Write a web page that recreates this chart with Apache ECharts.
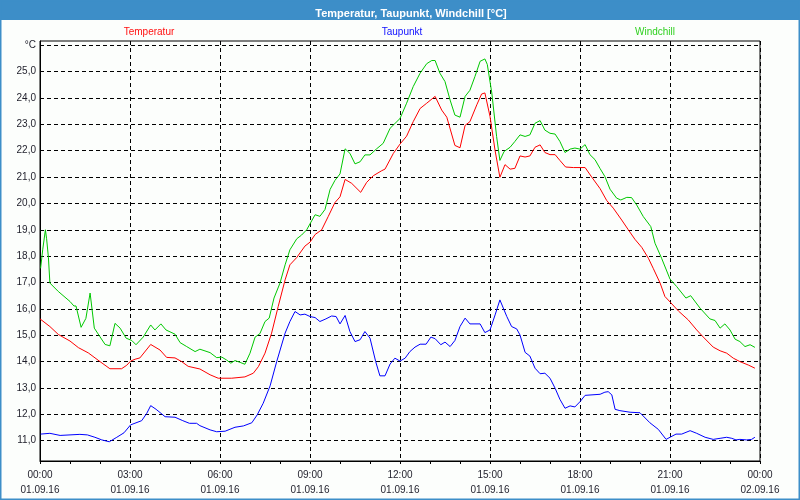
<!DOCTYPE html>
<html>
<head>
<meta charset="utf-8">
<title>Temperatur, Taupunkt, Windchill</title>
<script src="https://cdn.jsdelivr.net/npm/echarts@6/dist/echarts.min.js"></script>
<style>
  html, body { margin: 0; padding: 0; background: #fcfefc; }
  #chart { width: 800px; height: 500px; }
</style>
</head>
<body>
<div id="chart"></div>
<script>
// Stunden seit 01.09.16 00:00
const tempTimes = [0, 0.33, 0.61, 1.0, 1.28, 1.61, 2.0, 2.33, 2.72, 2.89, 3.02, 3.17, 3.33, 3.69, 4.0, 4.22, 4.5, 4.72, 4.94, 5.33,
  5.67, 5.94, 6.39, 6.83, 7.11, 7.28, 7.5, 7.72, 7.94, 8.17, 8.33, 8.56, 8.83, 9.0, 9.17, 9.39, 9.61, 9.83, 10.0, 10.17,
  10.39, 10.69, 10.89, 11.11, 11.39, 11.5, 11.78, 12.0, 12.22, 12.44, 12.67, 12.89, 13.17, 13.39, 13.56, 13.83, 14.0, 14.17, 14.33, 14.56,
  14.72, 14.83, 15.0, 15.17, 15.33, 15.5, 15.67, 15.83, 16.0, 16.17, 16.33, 16.5, 16.67, 16.83, 17.0, 17.17, 17.33, 17.52, 17.78, 18.17,
  18.39, 18.67, 18.89, 19.11, 19.39, 19.61, 19.83, 20.06, 20.28, 20.44, 20.67, 20.83, 21.02, 21.28, 21.61, 21.89, 22.11, 22.44, 22.67, 22.89,
  23.11, 23.33, 23.61, 23.83]
const tempValues = [15.62, 15.33, 15.03, 14.78, 14.53, 14.33, 14.0, 13.73, 13.73, 13.86, 14.02, 14.09, 14.14, 14.65, 14.44, 14.16, 14.14, 14.0, 13.82, 13.72,
  13.5, 13.37, 13.37, 13.42, 13.56, 13.81, 14.32, 15.08, 16.09, 17.1, 17.67, 17.95, 18.38, 18.53, 18.82, 19.0, 19.51, 20.03, 20.25, 20.91,
  20.76, 20.42, 20.8, 21.05, 21.24, 21.3, 21.9, 22.25, 22.55, 23.1, 23.6, 23.8, 24.06, 23.54, 23.27, 22.2, 22.11, 22.96, 23.1, 23.74,
  24.15, 24.19, 23.3, 22.0, 20.99, 21.47, 21.3, 21.33, 21.8, 21.76, 21.8, 22.13, 22.22, 21.93, 21.85, 21.85, 21.63, 21.38, 21.36, 21.36,
  21.0, 20.56, 20.11, 19.82, 19.37, 19.0, 18.64, 18.33, 17.92, 17.54, 16.98, 16.47, 16.24, 15.92, 15.58, 15.2, 14.93, 14.55, 14.41, 14.32,
  14.13, 14.0, 13.87, 13.75]

const dewTimes = [0.02, 0.33, 0.67, 1.0, 1.33, 1.58, 1.83, 2.06, 2.31, 2.56, 2.8, 3.02, 3.39, 3.56, 3.69, 3.87, 4.17, 4.5, 4.76, 4.98,
  5.22, 5.33, 5.67, 5.89, 6.17, 6.5, 6.78, 7.06, 7.24, 7.44, 7.67, 7.89, 8.17, 8.33, 8.5, 8.67, 8.83, 9.0, 9.17, 9.33,
  9.53, 9.72, 9.87, 10.0, 10.17, 10.33, 10.5, 10.67, 10.83, 11.0, 11.19, 11.33, 11.5, 11.67, 11.83, 12.0, 12.17, 12.33, 12.5, 12.67,
  12.87, 13.03, 13.17, 13.36, 13.5, 13.67, 13.83, 14.0, 14.17, 14.33, 14.67, 14.83, 15.0, 15.17, 15.33, 15.56, 15.72, 15.89, 16.0, 16.17,
  16.33, 16.5, 16.67, 16.83, 17.0, 17.17, 17.33, 17.5, 17.67, 17.83, 18.0, 18.17, 18.67, 18.83, 18.94, 19.06, 19.17, 19.33, 19.67, 20.0,
  20.33, 20.61, 20.87, 21.0, 21.2, 21.39, 21.67, 21.89, 22.17, 22.44, 22.67, 22.89, 23.06, 23.2, 23.33, 23.56, 23.72, 23.83]
const dewValues = [11.25, 11.28, 11.2, 11.22, 11.24, 11.22, 11.13, 11.03, 10.96, 11.13, 11.3, 11.6, 11.76, 12.04, 12.33, 12.19, 11.91, 11.89, 11.76, 11.66,
  11.66, 11.57, 11.41, 11.34, 11.36, 11.51, 11.56, 11.68, 11.98, 12.42, 13.08, 14.0, 15.08, 15.52, 15.9, 15.77, 15.8, 15.71, 15.67, 15.52,
  15.62, 15.73, 15.71, 15.43, 15.75, 15.14, 14.76, 14.83, 15.14, 14.89, 14.0, 13.46, 13.46, 13.91, 14.13, 14.02, 14.13, 14.38, 14.55, 14.66,
  14.66, 14.93, 14.87, 14.64, 14.74, 14.57, 14.8, 15.33, 15.65, 15.43, 15.43, 15.1, 15.2, 15.77, 16.34, 15.71, 15.33, 15.24, 15.01, 14.35,
  14.21, 13.75, 13.54, 13.56, 13.37, 12.99, 12.57, 12.23, 12.32, 12.28, 12.48, 12.72, 12.76, 12.84, 12.86, 12.74, 12.19, 12.14, 12.08, 12.06,
  11.68, 11.43, 11.05, 11.13, 11.25, 11.25, 11.38, 11.28, 11.13, 11.05, 11.09, 11.13, 11.09, 11.03, 11.05, 11.03, 11.05, 11.13]

const chillTimes = [0.02, 0.09, 0.18, 0.22, 0.28, 0.33, 0.61, 1.0, 1.13, 1.2, 1.37, 1.53, 1.67, 1.81, 2.0, 2.17, 2.33, 2.5, 2.67, 2.87,
  3.06, 3.2, 3.44, 3.69, 3.83, 4.03, 4.2, 4.5, 4.67, 4.89, 5.17, 5.33, 5.67, 5.89, 6.06, 6.22, 6.36, 6.5, 6.67, 6.83,
  7.0, 7.17, 7.33, 7.5, 7.64, 7.8, 8.0, 8.17, 8.33, 8.56, 8.72, 8.89, 9.17, 9.33, 9.5, 9.67, 9.83, 10.0, 10.17, 10.33,
  10.5, 10.67, 10.83, 11.0, 11.22, 11.44, 11.67, 12.0, 12.22, 12.44, 12.67, 12.89, 13.06, 13.17, 13.33, 13.5, 13.67, 13.83, 14.0, 14.17,
  14.33, 14.5, 14.67, 14.83, 14.91, 15.06, 15.22, 15.33, 15.47, 15.67, 15.83, 16.0, 16.17, 16.33, 16.5, 16.67, 16.83, 17.0, 17.17, 17.33,
  17.5, 17.67, 17.83, 18.0, 18.17, 18.33, 18.5, 18.67, 18.83, 19.0, 19.22, 19.36, 19.56, 19.72, 19.89, 20.11, 20.36, 20.5, 20.72, 21.0,
  21.22, 21.53, 21.69, 22.0, 22.33, 22.5, 22.67, 22.83, 23.0, 23.17, 23.33, 23.5, 23.67, 23.83]
const chillValues = [17.54, 18.24, 19.0, 18.66, 17.96, 16.98, 16.66, 16.28, 16.11, 16.11, 15.3, 15.64, 16.6, 15.27, 14.94, 14.65, 14.6, 15.45, 15.27, 14.89,
  14.8, 14.64, 14.93, 15.39, 15.2, 15.43, 15.2, 15.04, 14.72, 14.57, 14.38, 14.47, 14.34, 14.15, 14.17, 14.06, 13.94, 14.04, 13.97, 13.9,
  14.32, 14.93, 15.06, 15.52, 15.65, 16.41, 16.98, 17.67, 18.24, 18.66, 18.8, 19.0, 19.57, 19.51, 19.77, 20.53, 20.87, 21.12, 22.07, 21.9,
  21.5, 21.58, 21.84, 21.84, 22.07, 22.28, 22.85, 23.22, 23.8, 24.43, 24.94, 25.3, 25.42, 25.42, 24.94, 24.62, 23.92, 23.35, 23.27, 24.06,
  24.29, 24.82, 25.39, 25.48, 25.27, 24.19, 22.54, 21.63, 21.97, 22.13, 22.35, 22.6, 22.54, 22.6, 23.04, 23.14, 22.78, 22.66, 22.63, 22.35,
  21.93, 22.06, 22.1, 22.06, 22.23, 21.85, 21.66, 21.32, 21.02, 20.54, 20.2, 20.13, 20.23, 20.22, 19.94, 19.5, 19.12, 18.49, 17.92, 17.13,
  16.85, 16.41, 16.5, 16.03, 15.62, 15.56, 15.27, 15.43, 15.2, 14.85, 14.76, 14.57, 14.64, 14.54]

const yTicks = [11, 12, 13, 14, 15, 16, 17, 18, 19, 20, 21, 22, 23, 24, 25, 26]

const pairs = (t, v) => t.map((x, i) => [x, v[i]])
const textColor = '#1e1e2a'
const font = 'Liberation Sans, Arial, sans-serif'
const dash = { color: '#000', width: 1, type: [4, 3] }

function lineSeries(name, color, t, v) {
  return {
    name: name,
    type: 'line',
    data: pairs(t, v),
    showSymbol: false,
    symbol: 'none',
    lineStyle: { color: color, width: 1 },
    itemStyle: { color: color },
    animation: false
  }
}

const chart = echarts.init(document.getElementById('chart'))
chart.setOption({
  backgroundColor: '#fcfefc',
  animation: false,
  title: [
    { text: 'Temperatur, Taupunkt, Windchill [°C]', left: 406, top: 3, textAlign: 'center',
      textStyle: { color: '#fff', fontSize: 11, fontWeight: 'bold', fontFamily: font } },
    { text: 'Temperatur', left: 144, top: 22, textAlign: 'center',
      textStyle: { color: '#ff1010', fontSize: 10, fontWeight: 'normal', fontFamily: font } },
    { text: 'Taupunkt', left: 397, top: 22, textAlign: 'center',
      textStyle: { color: '#1010ff', fontSize: 10, fontWeight: 'normal', fontFamily: font } },
    { text: 'Windchill', left: 650, top: 22, textAlign: 'center',
      textStyle: { color: '#30d020', fontSize: 10, fontWeight: 'normal', fontFamily: font } }
  ],
  graphic: [
    { type: 'rect', z: -1, shape: { x: 0, y: 0, width: 800, height: 20 }, style: { fill: '#3d8ec8' } },
    { type: 'rect', z: -1, shape: { x: 0.5, y: 0.5, width: 799, height: 499 }, style: { fill: null, stroke: '#3d8ec8', lineWidth: 2 } }
  ],
  grid: {
    left: 40, right: 40, top: 41, bottom: 39,
    show: true, borderColor: '#000', borderWidth: 1, backgroundColor: 'transparent'
  },
  xAxis: {
    type: 'value',
    min: 0, max: 24, interval: 3,
    axisLine: { lineStyle: { color: '#000', width: 1 } },
    axisTick: { show: true, length: 3, lineStyle: { color: '#000' } },
    minorTick: { show: true, splitNumber: 3, length: 3, lineStyle: { color: '#000' } },
    splitLine: { show: true, lineStyle: dash },
    axisLabel: {
      color: textColor, fontSize: 10, fontFamily: font, margin: 7, lineHeight: 15,
      formatter: function (h) {
        const hh = String(h % 24).padStart(2, '0') + ':00'
        return hh + '\n' + (h >= 24 ? '02.09.16' : '01.09.16')
      }
    }
  },
  yAxis: {
    type: 'value',
    min: 10.23, max: 26.16,
    axisLine: { show: true, lineStyle: { color: '#000', width: 1 } },
    axisTick: { show: false, customValues: yTicks },
    splitLine: { show: true, lineStyle: dash },
    axisLabel: {
      customValues: yTicks,
      color: textColor, fontSize: 10, fontFamily: font, margin: 4,
      formatter: function (v) {
        return v >= 26 ? '°C' : v.toFixed(1).replace('.', ',')
      }
    }
  },
  series: [
    lineSeries('Taupunkt', '#0000ff', dewTimes, dewValues),
    lineSeries('Temperatur', '#ff0000', tempTimes, tempValues),
    lineSeries('Windchill', '#00c800', chillTimes, chillValues)
  ]
})
</script>
</body>
</html>
